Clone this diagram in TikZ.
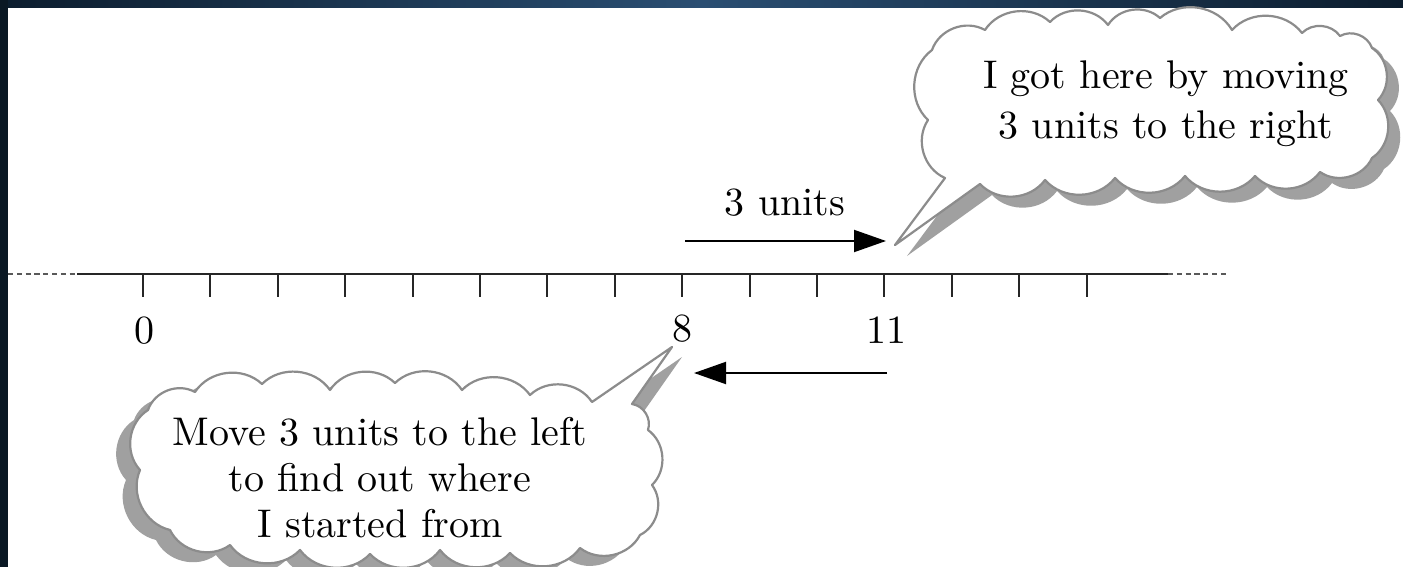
\documentclass[tikz,border=0pt]{standalone}
\usetikzlibrary{arrows.meta}
\definecolor{bandmid}{HTML}{2A4E72}
\definecolor{bandedge}{HTML}{0C1D2E}
\definecolor{bandleft}{HTML}{0A1824}
\definecolor{cloudline}{HTML}{8C8C8C}
\definecolor{cloudshade}{HTML}{A0A0A0}
\newcommand\upcloudpath[1]{%
  \path[#1] (932,50) to[cloudpuff] (985,30) to[cloudpuff] (1050,22) to[cloudpuff] (1108,25)
    to[cloudpuff] (1160,18) to[cloudpuff] (1232,30) to[cloudpuff] (1302,33) to[cloudpuff] (1340,36)
    to[cloudpuff] (1372,48) to[cloudpuff] (1378,100) to[cloudpuff] (1372,158)
    to[cloudpuff] (1320,172) to[cloudpuff] (1255,176) to[cloudpuff] (1185,176) to[cloudpuff] (1115,178)
    to[cloudpuff] (1045,180) to[cloudpuff] (980,184) -- (895,245) -- (945,178)
    to[cloudpuff] (928,120) to[cloudpuff] (932,50) -- cycle;}
\newcommand\lowcloudbody[1]{%
  \path[#1] (148,410) to[cloudpuff] (195,392) to[cloudpuff] (262,384) to[cloudpuff] (330,390)
    to[cloudpuff] (395,383) to[cloudpuff] (462,390) to[cloudpuff] (530,395) to[cloudpuff] (592,402)
    to[cloudpuff] (648,430) to[cloudpuff] (652,485) to[cloudpuff] (640,535)
    to[cloudpuff] (580,548) to[cloudpuff] (510,553) to[cloudpuff] (440,550) to[cloudpuff] (370,554)
    to[cloudpuff] (300,550) to[cloudpuff] (230,545) to[cloudpuff] (170,530)
    to[cloudpuff] (140,470) to[cloudpuff] (148,410) -- cycle;}
\newcommand\lowcloudpath[1]{%
  \path[#1] (148,410) to[cloudpuff] (195,392) to[cloudpuff] (262,384) to[cloudpuff] (330,390)
    to[cloudpuff] (395,383) to[cloudpuff] (462,390) to[cloudpuff] (530,395) to[cloudpuff] (592,402)
    -- (672,347) -- (632,404)
    to[cloudpuff] (648,430) to[cloudpuff] (652,485) to[cloudpuff] (640,535)
    to[cloudpuff] (580,548) to[cloudpuff] (510,553) to[cloudpuff] (440,550) to[cloudpuff] (370,554)
    to[cloudpuff] (300,550) to[cloudpuff] (230,545) to[cloudpuff] (170,530)
    to[cloudpuff] (140,470) to[cloudpuff] (148,410) -- cycle;}
\begin{document}
\begin{tikzpicture}[x=0.25pt,y=-0.25pt,
  cloudpuff/.style={bend left=50},
  numline/.style={line width=0.65pt, black!85},
  extline/.style={line width=0.6pt, black!65, dash pattern=on 1.3pt off 0.9pt},
  tickmark/.style={line width=0.5pt, black!85},
  numlabel/.style={font=\fontsize{10}{12}\selectfont, inner sep=0pt},
  bigarrow/.style={line width=0.5pt, -{Triangle[length=8pt,width=5.5pt]}},
  cloudtext/.style={align=center, inner sep=0pt}]
% background frame
\useasboundingbox (0,0) rectangle (1403,567);
\fill[white] (0,0) rectangle (1403,567);
\shade[left color=bandedge, right color=bandedge, middle color=bandmid] (0,0) rectangle (1403,7);
\fill[bandleft] (0,0) rectangle (8,567);
% number line
\coordinate (lineL) at (77,274);
\coordinate (lineR) at (1168,274);
\coordinate (extL) at (8,274);
\coordinate (extR) at (1228,274);
\draw[extline] (extL) -- (lineL);
\draw[extline] (lineR) -- (extR);
\draw[numline] (lineL) -- (lineR);
\foreach \k in {0,...,14}
  \draw[tickmark] ({143+67.4*\k},274) -- ({143+67.4*\k},297);
\node[numlabel] (n0) at (144,331) {0};
\node[numlabel] (n8) at (682,329) {8};
\node[numlabel] (n11) at (886,330) {11};
% arrows
\node[numlabel] (units) at (785,203) {3 units};
\coordinate (ua) at (685,241);
\coordinate (ub) at (886,241);
\draw[bigarrow] (ua) -- (ub);
\coordinate (la) at (887,373);
\coordinate (lb) at (694,373);
\draw[bigarrow] (la) -- (lb);
% upper cloud
\upcloudpath{fill=cloudshade, shift={(12,11)}}
\upcloudpath{fill=white, draw=cloudline, line width=0.55pt, line join=round}
\node[cloudtext, font=\fontsize{10}{12.5}\selectfont] (uptext) at (1166,104) {I got here by moving\\3 units to the right};
% lower cloud
\lowcloudbody{fill=cloudshade, shift={(-14,10)}}
\fill[cloudshade] (602,412) -- (682,357) -- (642,414) -- cycle;
\lowcloudpath{fill=white, draw=cloudline, line width=0.55pt, line join=round}
\node[cloudtext, font=\fontsize{10}{11.5}\selectfont] (lowtext) at (380,478) {Move 3 units to the left\\to find out where\\I started from};
\end{tikzpicture}
\end{document}
